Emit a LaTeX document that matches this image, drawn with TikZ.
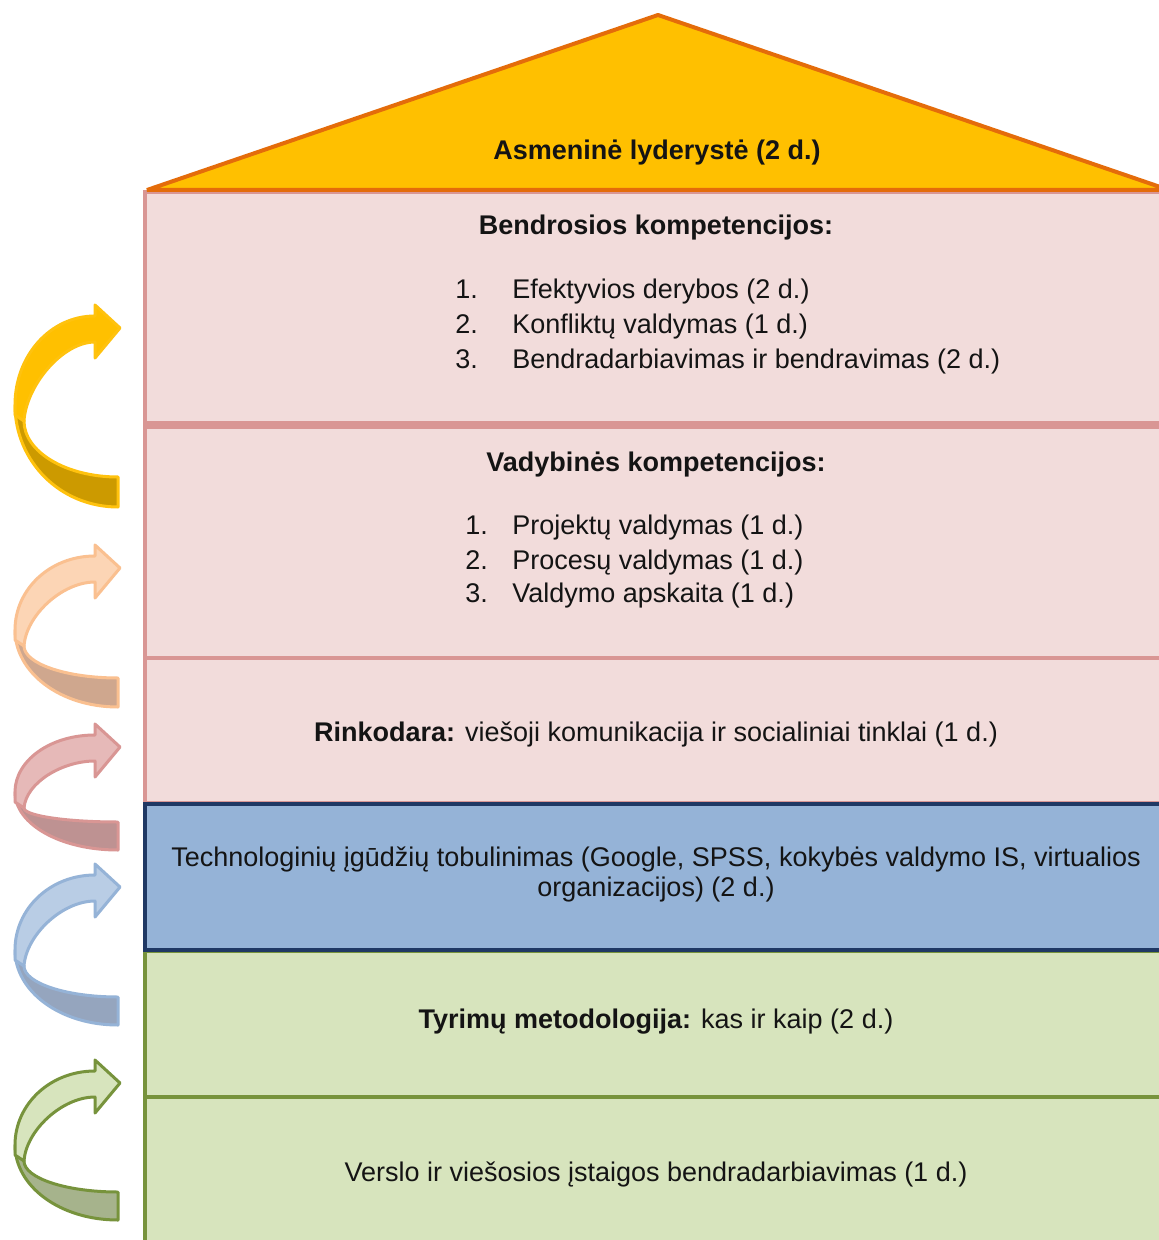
\documentclass[tikz,border=0pt]{standalone}
\usepackage{fontspec}
\setmainfont{Liberation Sans}
\definecolor{roofFill}{HTML}{FFC000}
\definecolor{roofDraw}{HTML}{E46C0A}
\definecolor{pinkFill}{HTML}{F2DCDB}
\definecolor{pinkDraw}{HTML}{D99694}
\definecolor{blueFill}{HTML}{95B3D7}
\definecolor{blueDraw}{HTML}{1F3864}
\definecolor{greenFill}{HTML}{D7E4BD}
\definecolor{greenDraw}{HTML}{77933C}
\definecolor{yLight}{HTML}{FFC000}
\definecolor{yDark}{HTML}{CC9A00}
\definecolor{yStroke}{HTML}{FFC20E}
\definecolor{pLight}{HTML}{FCD5B5}
\definecolor{pDark}{HTML}{CFA78E}
\definecolor{pStroke}{HTML}{FAC090}
\definecolor{rLight}{HTML}{E6B9B8}
\definecolor{rDark}{HTML}{BE9292}
\definecolor{rStroke}{HTML}{D99694}
\definecolor{bLight}{HTML}{B9CDE5}
\definecolor{bDark}{HTML}{95A5BE}
\definecolor{bStroke}{HTML}{95B3D7}
\definecolor{gLight}{HTML}{D7E4BD}
\definecolor{gDark}{HTML}{A6B38C}
\definecolor{gStroke}{HTML}{77933C}
\definecolor{txt}{HTML}{141414}
% #1 light, #2 dark, #3 stroke, #4 tip y, #5 leftmost y, #6 inner bottom y, #7 outer bottom y
\newcommand\curvarr[7]{%
  \filldraw[fill=#2, draw=#3, arrline]
    (15,#5) .. controls (15,{#5+0.55*(#7-#5)}) and (60,#7) .. (118,#7)
    -- (118,#6) .. controls (66,#6) and (24,{#5+16+0.55*(#6-#5-16)}) .. (24,{#5+16}) -- cycle;
  \filldraw[fill=#1, draw=#3, arrline]
    (15,{#5+10}) -- (15,#5) .. controls (15,{#5-0.55*(#5-#4+12)}) and (50,{#4-12}) .. (95,{#4-12})
    -- (95,{#4-23}) -- (120,#4) -- (95,{#4+30}) -- (95,{#4+14})
    .. controls (62,{#4+14}) and (26,{#5-0.3*(#5-#4-14)}) .. (24,{#5+16}) -- cycle;
}
\tikzset{
  arrline/.style={line width=1.5pt, line join=round},
  lbl/.style={text=txt, inner sep=0pt, font=\fontsize{13.5}{16}\selectfont},
  boxline/.style={line width=2pt},
}
\begin{document}
\begin{tikzpicture}[x=0.5pt, y=-0.5pt]
\useasboundingbox (0,0) rectangle (1159,1240);
\clip (0,0) rectangle (1159,1240);
\fill[white] (0,0) rectangle (1159,1240);
% boxes
\filldraw[fill=pinkFill, draw=pinkDraw, boxline] (145,192) rectangle (1172,423);
\filldraw[fill=pinkFill, draw=pinkDraw, boxline] (145,427) rectangle (1172,658);
\filldraw[fill=pinkFill, draw=pinkDraw, boxline] (145,658) rectangle (1172,803);
\filldraw[fill=greenFill, draw=greenDraw, boxline] (145,1097) rectangle (1172,1250);
\filldraw[fill=greenFill, draw=greenDraw, boxline] (145,951) rectangle (1172,1097);
\filldraw[fill=blueFill, draw=blueDraw, boxline] (145,804) rectangle (1172,950);
% roof
\filldraw[fill=roofFill, draw=roofDraw, line width=2pt, line join=bevel] (147,190) -- (658,15) -- (1169,190) -- cycle;
% texts
\node[lbl, anchor=base] (roof) at (657,160) {\bfseries Asmeninė lyderystė (2 d.)};
\node[lbl, anchor=base] (b1t) at (656,235) {\bfseries Bendrosios kompetencijos:};
\node[lbl, anchor=base west] (b1n1) at (455,299) {1.};
\node[lbl, anchor=base west] (b1i1) at (512,299) {Efektyvios derybos (2 d.)};
\node[lbl, anchor=base west] (b1n2) at (455,334) {2.};
\node[lbl, anchor=base west] (b1i2) at (512,334) {Konfliktų valdymas (1 d.)};
\node[lbl, anchor=base west] (b1n3) at (455,369) {3.};
\node[lbl, anchor=base west] (b1i3) at (512,369) {Bendradarbiavimas ir bendravimas (2 d.)};
\node[lbl, anchor=base] (b2t) at (656,471) {\bfseries Vadybinės kompetencijos:};
\node[lbl, anchor=base west] (b2n1) at (465,534) {1.};
\node[lbl, anchor=base west] (b2i1) at (512,534) {Projektų valdymas (1 d.)};
\node[lbl, anchor=base west] (b2n2) at (465,569) {2.};
\node[lbl, anchor=base west] (b2i2) at (512,569) {Procesų valdymas (1 d.)};
\node[lbl, anchor=base west] (b2n3) at (465,602) {3.};
\node[lbl, anchor=base west] (b2i3) at (512,602) {Valdymo apskaita (1 d.)};
\node[lbl, anchor=base] (b3) at (656,741) {\textbf{Rinkodara:} viešoji komunikacija ir socialiniai tinklai (1 d.)};
\node[lbl, anchor=base] (b4a) at (656,866) {Technologinių įgūdžių tobulinimas (Google, SPSS, kokybės valdymo IS, virtualios};
\node[lbl, anchor=base] (b4b) at (656,896) {organizacijos) (2 d.)};
\node[lbl, anchor=base] (b5) at (656,1028) {\textbf{Tyrimų metodologija:} kas ir kaip (2 d.)};
\node[lbl, anchor=base] (b6) at (656,1181) {Verslo ir viešosios įstaigos bendradarbiavimas (1 d.)};
% curved arrows
\curvarr{yLight}{yDark}{yStroke}{328}{405}{477}{507}
\curvarr{pLight}{pDark}{pStroke}{568}{630}{678}{707}
\curvarr{rLight}{rDark}{rStroke}{747}{792}{822}{850}
\curvarr{bLight}{bDark}{bStroke}{887}{950}{997}{1025}
\curvarr{gLight}{gDark}{gStroke}{1083}{1145}{1192}{1220}
\end{tikzpicture}
\end{document}
